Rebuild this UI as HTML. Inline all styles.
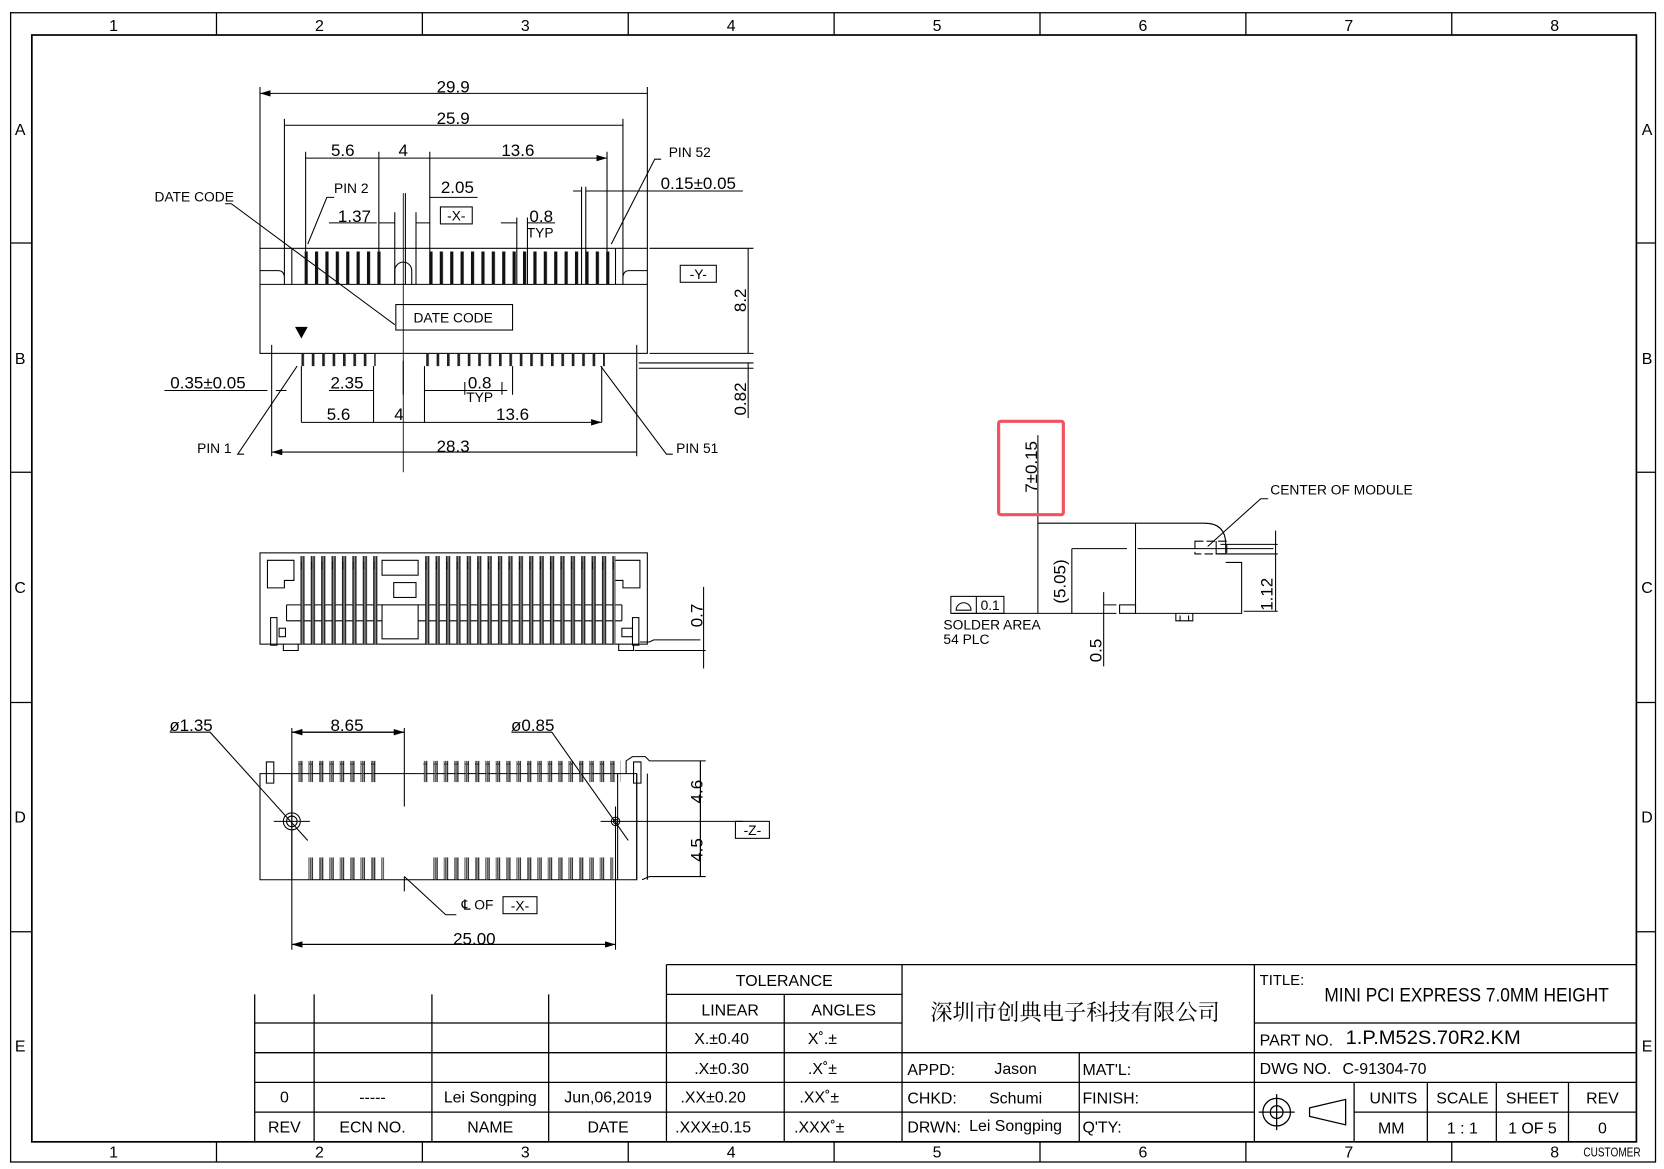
<!DOCTYPE html>
<html><head><meta charset="utf-8"><style>
html,body{margin:0;padding:0;background:#fff;}
svg{display:block;}
text{font-family:"Liberation Sans Narrow","Liberation Sans",sans-serif;fill:#000;}
</style></head><body>
<svg width="1664" height="1169" viewBox="0 0 1568 1101.6" preserveAspectRatio="none" xmlns="http://www.w3.org/2000/svg">
<defs>
<pattern id="ptop" x="287" y="0" width="9.8" height="40" patternUnits="userSpaceOnUse"><rect x="0" y="0" width="3" height="40" fill="#111"/></pattern>
<pattern id="pbot" x="284" y="0" width="9.8" height="40" patternUnits="userSpaceOnUse"><rect x="0" y="0" width="2.5" height="40" fill="#222"/></pattern>
<pattern id="pside" x="283" y="0" width="9.8" height="100" patternUnits="userSpaceOnUse"><rect x="0" y="0" width="4" height="100" fill="#222"/><rect x="1.3" y="0" width="1.4" height="100" fill="#888"/><rect x="-1" y="30" width="2" height="6" fill="none" stroke="#000" stroke-width="0.8"/></pattern>
<pattern id="pbv" x="281" y="0" width="9.8" height="40" patternUnits="userSpaceOnUse"><rect x="0" y="0" width="3.5" height="40" fill="none" stroke="#000" stroke-width="1"/><rect x="1" y="0" width="1.5" height="40" fill="#555"/></pattern>
<marker id="ar" viewBox="0 0 10 6" refX="10" refY="3" markerWidth="10" markerHeight="6" orient="auto-start-reverse" markerUnits="userSpaceOnUse"><path d="M0,0L10,3L0,6z" fill="#000"/></marker>
</defs>
<g fill="none" stroke="#000" stroke-width="1.2">
<rect x="10" y="12" width="1550" height="1083"/>
<rect x="30" y="33" width="1512" height="1043" stroke-width="1.6"/>
<path d="M204,12V33M398,12V33M592,12V33M786,12V33M980,12V33M1174,12V33M1368,12V33M204,1076V1095M398,1076V1095M592,1076V1095M786,1076V1095M980,1076V1095M1174,1076V1095M1368,1076V1095"/>
<path d="M10,229H30M10,445H30M10,662H30M10,878H30M1542,229H1560M1542,445H1560M1542,662H1560M1542,878H1560"/>
</g>
<g font-size="15" text-anchor="middle">
<text x="107" y="29">1</text><text x="301" y="29">2</text><text x="495" y="29">3</text><text x="689" y="29">4</text><text x="883" y="29">5</text><text x="1077" y="29">6</text><text x="1271" y="29">7</text><text x="1465" y="29">8</text>
<text x="107" y="1091">1</text><text x="301" y="1091">2</text><text x="495" y="1091">3</text><text x="689" y="1091">4</text><text x="883" y="1091">5</text><text x="1077" y="1091">6</text><text x="1271" y="1091">7</text><text x="1465" y="1091">8</text>
<text x="19" y="127">A</text><text x="19" y="343">B</text><text x="19" y="559">C</text><text x="19" y="775">D</text><text x="19" y="991">E</text>
<text x="1552" y="127">A</text><text x="1552" y="343">B</text><text x="1552" y="559">C</text><text x="1552" y="775">D</text><text x="1552" y="991">E</text>
</g>

<!-- TOP VIEW -->
<g fill="none" stroke="#000" stroke-width="1">
<rect x="245" y="234" width="365" height="99"/>
<path d="M245,268H610M268,234V268M587,234V268M275,234V268M580,234V268M245,255H262Q268,255 268,262M610,255H593Q587,255 587,262"/>
<path d="M372,268V255A8,8 0 0 1 388,255V268"/>
<path d="M245,82V234M610,82V234M268,112V234M587,112V234M288,143V268M357,143V268M405,143V268M572,143V268"/>
<path d="M245,88H610M268,118H587M288,149H357M357,149H405M405,149H572" marker-start="url(#ar)" marker-end="url(#ar)"/>
<path d="M382,182V268M405,186H450M372,210H357M392,210H405M472,210H487M497,210H523M552,180H700M540,180H548M310,210H355" />
<path d="M372,200V268M392,200V268M487,205V268M497,205V268M548,176V268M552,176V268"/>
<path d="M612,234H710M612,333H710M602,342H710M602,347H710M705,234V333M705,342V394"/>
<path d="M256,325V430M600,325V430M284,345V398M352,345V398M400,345V398M567,345V398M352,360V372M380,340V372M438,360V372M473,360V372M483,345V372"/>
<path d="M256,426H600M284,398H352M352,398H400M400,398H567" marker-start="url(#ar)" marker-end="url(#ar)"/>
<path d="M155,368H252M260,368H270M310,368H352M400,368H470M440,368H478"/>
<path d="M212,192H218L372,306M315,186H308L290,230M623,150H617L576,230M230,428H224L280,345M634,428H628L566,345"/>
<rect x="373" y="287" width="110" height="24"/>
<rect x="415" y="195" width="30" height="16"/>
<rect x="641" y="250" width="34" height="16"/>
</g>
<rect x="287" y="237" width="72" height="31" fill="url(#ptop)"/>
<rect x="404" y="237" width="174" height="31" fill="url(#ptop)"/>
<rect x="284" y="333" width="70" height="12" fill="url(#pbot)"/>
<rect x="400" y="333" width="170" height="12" fill="url(#pbot)"/>
<path d="M278,308H290L284,319z" fill="#000"/>
<path d="M380,182V445" stroke="#000" stroke-width="0.8" fill="none"/>
<g font-size="16" text-anchor="middle">
<text x="427" y="87">29.9</text><text x="427" y="117">25.9</text>
<text x="323" y="147">5.6</text><text x="380" y="147">4</text><text x="488" y="147">13.6</text>
<text x="431" y="182">2.05</text><text x="334" y="209">1.37</text><text x="510" y="209">0.8</text>
<text x="658" y="178">0.15±0.05</text>
<text x="196" y="366">0.35±0.05</text><text x="327" y="366">2.35</text><text x="452" y="366">0.8</text>
<text x="319" y="396">5.6</text><text x="376" y="396">4</text><text x="483" y="396">13.6</text><text x="427" y="426">28.3</text>
<text transform="translate(703,283) rotate(-90)">8.2</text><text transform="translate(703,376) rotate(-90)">0.82</text>
</g>
<g font-size="13" text-anchor="middle">
<text x="509" y="224">TYP</text><text x="452" y="379">TYP</text>
<text x="430" y="208">-X-</text><text x="658" y="263">-Y-</text>
<text x="427" y="304">DATE CODE</text>
<text x="183" y="190">DATE CODE</text><text x="331" y="182">PIN 2</text><text x="650" y="148">PIN 52</text>
<text x="202" y="427">PIN 1</text><text x="657" y="427">PIN 51</text>
</g>

<!-- SIDE VIEW -->
<g fill="none" stroke="#000" stroke-width="1">
<rect x="245" y="521" width="365" height="86"/>
<path d="M252,528H277V547H268V554H252z M603,528H578V547H587V554H603z"/>
<rect x="360" y="528" width="34" height="14"/><rect x="371" y="549" width="21" height="14"/><rect x="360" y="570" width="34" height="32"/>
<path d="M270,570H360M394,570H586M270,585H360M394,585H586M270,570V585M586,570V585"/>
<rect x="255" y="582" width="6" height="26"/><rect x="596" y="582" width="6" height="26"/>
<rect x="263" y="592" width="6" height="8"/><rect x="586" y="592" width="10" height="8"/>
<path d="M267,607V613H281V607M583,607V613H597V607M603,605H612L616,603H660M598,613H665M663,553V630"/>
</g>
<rect x="283" y="524" width="75" height="83" fill="url(#pside)"/>
<rect x="400" y="524" width="180" height="83" fill="url(#pside)"/>
<text transform="translate(662,580) rotate(-90)" font-size="16" text-anchor="middle">0.7</text>

<!-- BOTTOM VIEW -->
<g fill="none" stroke="#000" stroke-width="1">
<path d="M245,729V829H275V729z M275,729H600V829H275"/>
<path d="M600,729V829M582,729V829M610,729V829"/>
<path d="M251,718H258V738H251z M597,718H604V738H597z"/>
<path d="M590,729V717L596,713H608L612,717H665M605,829L612,826H665M660,717V826"/>
<path d="M275,686V895M381,686V760M381,826V840M580,760V895M275,690H381M275,890H580" />
<path d="M275,690H381" marker-start="url(#ar)" marker-end="url(#ar)"/>
<path d="M275,890H580" marker-start="url(#ar)" marker-end="url(#ar)"/>
<circle cx="275" cy="774" r="8"/><circle cx="275" cy="774" r="5"/>
<circle cx="580" cy="774" r="4"/><circle cx="580" cy="774" r="2"/>
<path d="M258,774H292M566,774H700M660,717V774M660,774V826" />
<path d="M160,690H198L290,792M482,690H520L592,792M381,826L420,862H430"/>
<rect x="693" y="774" width="32" height="16"/>
<rect x="474" y="845" width="32" height="16"/>
</g>
<rect x="281" y="717" width="75" height="20" fill="url(#pbv)"/>
<rect x="399" y="717" width="186" height="20" fill="url(#pbv)"/>
<rect x="287" y="808" width="75" height="21" fill="url(#pbv)"/>
<rect x="403" y="808" width="175" height="21" fill="url(#pbv)"/>
<g font-size="16" text-anchor="middle">
<text x="180" y="689">ø1.35</text><text x="327" y="689">8.65</text><text x="502" y="689">ø0.85</text>
<text x="447" y="890">25.00</text>
<text transform="translate(662,746) rotate(-90)">4.6</text><text transform="translate(662,801) rotate(-90)">4.5</text>
</g>
<g font-size="13" text-anchor="middle"><text x="709" y="787">-Z-</text><text x="490" y="858">-X-</text><text x="450" y="857">℄ OF</text></g>

<!-- RIGHT SIDE VIEW -->
<g fill="none" stroke="#000" stroke-width="1">
<path d="M978,410V578M978,493H1070M1010,517H1062M1010,517V578M1072,517H1200"/>
<path d="M1070,493H1135Q1155,493 1155,513V522M1070,493V578H1170V530H1155"/>
<rect x="1126" y="510" width="30" height="12" stroke-dasharray="8,3"/>
<path d="M1146,510V522H1156"/>
<path d="M1150,513H1204M1148,522H1204M1202,500V576M1172,576H1204"/>
<path d="M1138,515L1188,470H1195"/>
<path d="M898,578H1052M1040,558V628M1040,570H1052"/>
<rect x="1055" y="570" width="15" height="8"/>
<path d="M1108,578V585H1124V578M1112,585V580M1120,585V580"/>
<rect x="896" y="562" width="50" height="16"/><path d="M920,562V578"/>
<path d="M901,575H915A7,7 0 0 0 901,575z"/>
</g>
<rect x="941" y="397" width="61" height="88" rx="2" fill="none" stroke="#f0525e" stroke-width="3"/>
<g font-size="16" text-anchor="middle">
<text transform="translate(977,440) rotate(-90)">7±0.15</text>
<text transform="translate(1004,548) rotate(-90)">(5.05)</text>
<text transform="translate(1199,560) rotate(-90)">1.12</text>
<text transform="translate(1038,613) rotate(-90)">0.5</text>
</g>
<g font-size="13">
<text x="1197" y="466">CENTER OF MODULE</text>
<text x="924" y="575">0.1</text>
<text x="889" y="593">SOLDER AREA</text><text x="889" y="607">54 PLC</text>
</g>

<!-- TITLE BLOCK -->
<g fill="none" stroke="#000" stroke-width="1.2">
<path d="M628,909H1542M628,909V1076M850,909V1076M1182,909V1076"/>
<path d="M240,937V1076M296,937V1076M407,937V1076M517,937V1076"/>
<path d="M240,964H850M240,992H1542M240,1020H1542M240,1048H1182M628,937H850M739,937V1076M1182,964H1542M1017,992V1076"/>
<path d="M1276,1020V1076M1345,1020V1076M1410,1020V1076M1478,1020V1076M1276,1048H1542"/>
</g>
<g font-size="15" text-anchor="middle">
<text x="739" y="929">TOLERANCE</text><text x="688" y="957">LINEAR</text><text x="795" y="957">ANGLES</text>
<text x="680" y="984">X.±0.40</text><text x="775" y="984">X˚.±</text>
<text x="680" y="1012">.X±0.30</text><text x="775" y="1012">.X˚±</text>
<text x="672" y="1039">.XX±0.20</text><text x="772" y="1039">.XX˚±</text>
<text x="672" y="1067">.XXX±0.15</text><text x="772" y="1067">.XXX˚±</text>
<text x="268" y="1039">0</text><text x="351" y="1039">-----</text><text x="462" y="1039">Lei Songping</text><text x="573" y="1039">Jun,06,2019</text>
<text x="268" y="1067">REV</text><text x="351" y="1067">ECN NO.</text><text x="462" y="1067">NAME</text><text x="573" y="1067">DATE</text>
<text x="1313" y="1040">UNITS</text><text x="1378" y="1040">SCALE</text><text x="1444" y="1040">SHEET</text><text x="1510" y="1040">REV</text>
<text x="1311" y="1068">MM</text><text x="1378" y="1068">1 : 1</text><text x="1444" y="1068">1 OF 5</text><text x="1510" y="1068">0</text>
<text x="957" y="1012">Jason</text><text x="957" y="1040">Schumi</text><text x="957" y="1066">Lei Songping</text>
</g>
<g font-size="15">
<text x="855" y="1013">APPD:</text><text x="855" y="1040">CHKD:</text><text x="855" y="1067">DRWN:</text>
<text x="1020" y="1013">MAT'L:</text><text x="1020" y="1040">FINISH:</text><text x="1020" y="1067">Q'TY:</text>
<text x="1187" y="928" font-size="14">TITLE:</text>
<text x="1248" y="944" font-size="18" textLength="268" lengthAdjust="spacingAndGlyphs">MINI PCI EXPRESS 7.0MM HEIGHT</text>
<text x="1187" y="985">PART NO.</text><text x="1268" y="984" font-size="18" font-family="Liberation Sans" textLength="165" lengthAdjust="spacingAndGlyphs">1.P.M52S.70R2.KM</text>
<text x="1187" y="1012">DWG NO.</text><text x="1265" y="1012">C-91304-70</text>
<text x="1492" y="1090" font-size="12" textLength="54" lengthAdjust="spacingAndGlyphs">CUSTOMER</text>
</g>
<text x="1013" y="961" font-size="21" text-anchor="middle" style="font-family:'Noto Serif CJK SC','Noto Sans CJK SC',serif">深圳市创典电子科技有限公司</text>
<g fill="none" stroke="#000" stroke-width="1.2">
<circle cx="1203" cy="1048" r="13"/><circle cx="1203" cy="1048" r="6"/><path d="M1186,1048H1220M1203,1031V1065"/>
<path d="M1234,1044L1268,1036V1060L1234,1052z"/>
</g>
</svg>
</body></html>
